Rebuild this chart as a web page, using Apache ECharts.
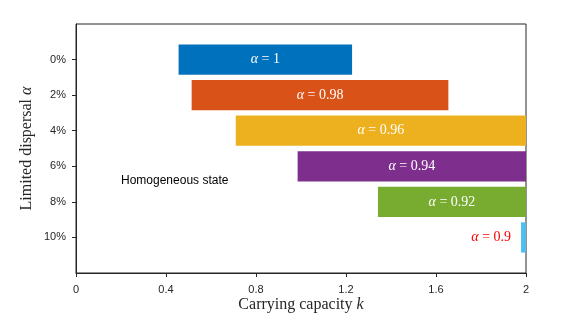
<!DOCTYPE html>
<html>
<head>
<meta charset="utf-8">
<script src="https://cdn.jsdelivr.net/npm/echarts@6/dist/echarts.min.js"></script>
<style>html,body{margin:0;padding:0;background:#fff}#c{width:581px;height:317px}</style>
</head>
<body>
<div id="c"></div>
<script>
// Data
const dispersal = [0, 2, 4, 6, 8, 10];              // limited dispersal (%)
const kStart = [0.456, 0.514, 0.71, 0.985, 1.342, 1.978];
const kEnd   = [1.227, 1.655, 2.0, 2.0, 2.0, 2.0];
const alphaValues = ['1', '0.98', '0.96', '0.94', '0.92', '0.9'];
const xTicks = [0, 0.4, 0.8, 1.2, 1.6, 2];
const annotation = { text: 'Homogeneous state', k: 0.2, d: 6.8 };

const palette = ['#0072BD', '#D95319', '#EDB120', '#7E2F8E', '#77AC30', '#4DBEEE'];
const axisColor = '#262626';

const barData = dispersal.map((d, i) => [kStart[i], kEnd[i], d, i]);

const chart = echarts.init(document.getElementById('c'), null, { renderer: 'canvas' });
chart.setOption({
  animation: false,
  grid: { left: 76, right: 55, top: 24, bottom: 44, show: true, borderColor: axisColor, borderWidth: 1,
    backgroundColor: 'transparent', containLabel: false, outerBoundsMode: 'none' },
  xAxis: {
    type: 'value', min: 0, max: 2, interval: 0.4,
    axisLine: { show: true, onZero: false, lineStyle: { color: axisColor } },
    axisTick: { show: true, length: 4, lineStyle: { color: axisColor }, customValues: xTicks },
    splitLine: { show: false },
    axisLabel: { color: axisColor, fontFamily: 'Liberation Sans', fontSize: 11, margin: 11,
      customValues: xTicks, formatter: v => String(Math.round(v * 10) / 10) },
    name: 'Carrying capacity {i|k}', nameLocation: 'middle', nameGap: 24, nameMoveOverlap: false,
    nameTextStyle: { fontFamily: 'Liberation Serif', fontSize: 16, color: axisColor,
      rich: { i: { fontFamily: 'Liberation Serif', fontStyle: 'italic', fontSize: 16, color: axisColor } } }
  },
  yAxis: {
    type: 'value', min: -2, max: 12, interval: 2, inverse: true,
    axisLine: { show: true, onZero: false, lineStyle: { color: axisColor } },
    axisTick: { show: true, length: 4, lineStyle: { color: axisColor }, customValues: dispersal },
    splitLine: { show: false },
    axisLabel: { color: axisColor, fontFamily: 'Liberation Sans', fontSize: 11, margin: 10,
      customValues: dispersal, formatter: v => v + '%' },
    name: 'Limited dispersal {i|α}', nameLocation: 'middle', nameGap: 41, nameMoveOverlap: false,
    nameTextStyle: { fontFamily: 'Liberation Serif', fontSize: 16, color: axisColor,
      rich: { i: { fontFamily: 'Liberation Serif', fontStyle: 'italic', fontSize: 16, color: axisColor } } }
  },
  series: [
    {
      type: 'custom',
      data: barData,
      encode: { x: [0, 1], y: 2 },
      renderItem: function (params, api) {
        const s = api.value(0), e = api.value(1), d = api.value(2), idx = api.value(3);
        const p0 = api.coord([s, d]);
        const p1 = api.coord([e, d]);
        const h = api.size([0, 1.7])[1];
        const w = p1[0] - p0[0];
        const label = '{i|α} = ' + alphaValues[idx];
        const inside = w > 40;
        return {
          type: 'group',
          children: [
            { type: 'rect', shape: { x: p0[0], y: p0[1] - h / 2, width: w, height: h },
              style: { fill: palette[idx] } },
            { type: 'text',
              style: {
                text: label,
                x: inside ? (p0[0] + p1[0]) / 2 : p0[0] - 10,
                y: p0[1],
                align: inside ? 'center' : 'right',
                verticalAlign: 'middle',
                fill: inside ? '#ffffff' : '#ff0000',
                font: '14px "Liberation Serif"',
                rich: { i: { fontStyle: 'italic', fontFamily: 'Liberation Serif', fontSize: 14, fill: inside ? '#ffffff' : '#ff0000' } }
              } }
          ]
        };
      },
      z: 2
    },
    {
      type: 'custom',
      data: [[annotation.k, annotation.d]],
      encode: { x: 0, y: 1 },
      renderItem: function (params, api) {
        const p = api.coord([api.value(0), api.value(1)]);
        return { type: 'text', style: { text: annotation.text, x: p[0], y: p[1], align: 'left', verticalAlign: 'middle',
          fill: '#000000', font: '12px "Liberation Sans"' } };
      },
      z: 3
    }
  ]
});
</script>
</body>
</html>
